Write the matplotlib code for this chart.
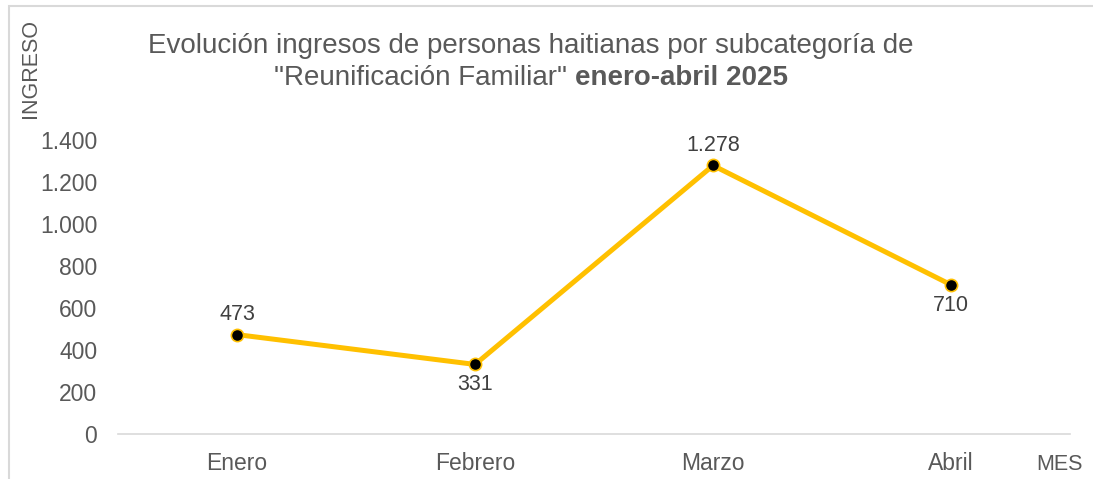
import matplotlib
matplotlib.use("Agg")
import matplotlib.pyplot as plt
import matplotlib.ticker as mticker
from matplotlib.patches import Rectangle

plt.rcParams["font.family"] = ["Liberation Sans", "DejaVu Sans"]

MONTHS = ["Enero", "Febrero", "Marzo", "Abril"]
INGRESOS = [473, 331, 1278, 710]
LABEL_POS = ["above", "below", "above", "below"]
Y_TICKS = [0, 200, 400, 600, 800, 1000, 1200, 1400]

LINE_COLOR = "#FFC000"
TEXT_COLOR = "#595959"
AXIS_COLOR = "#D9D9D9"


def _miles(v, _pos=None):
    return f"{int(v):,}".replace(",", ".")


fig = plt.figure(figsize=(10.93, 4.79), dpi=100)
ax = fig.add_axes([0.108, 0.094, 0.871, 0.614])

x = range(len(MONTHS))
ax.plot(x, INGRESOS, color=LINE_COLOR, linewidth=3.6, zorder=2,
        marker="o", markersize=8.8, markerfacecolor="black",
        markeredgecolor=LINE_COLOR, markeredgewidth=1.2)

for i, (v, pos) in enumerate(zip(INGRESOS, LABEL_POS)):
    dy = 7 if pos == "above" else -7
    ax.annotate(_miles(v), (i, v), xytext=(0, dy), textcoords="offset points",
                ha="center", va="bottom" if pos == "above" else "top",
                fontsize=15.5, color="#404040")

ax.set_xlim(-0.5, len(MONTHS) - 0.5)
ax.set_ylim(0, 1400)
ax.set_xticks(list(x))
ax.set_xticklabels(MONTHS)
ax.set_yticks(Y_TICKS)
ax.yaxis.set_major_formatter(mticker.FuncFormatter(_miles))
ax.tick_params(axis="both", length=0, labelsize=16.5, colors=TEXT_COLOR)
ax.tick_params(axis="x", pad=13)
ax.tick_params(axis="y", pad=15)

for side in ("top", "right", "left"):
    ax.spines[side].set_visible(False)
ax.spines["bottom"].set_color(AXIS_COLOR)
ax.spines["bottom"].set_linewidth(1.2)

# axis titles
fig.text(30 / 1093, 1 - 118 / 479, "INGRESO", rotation=90, ha="center", va="bottom",
         fontsize=15.5, color=TEXT_COLOR)
fig.text(1060 / 1093, 1 - 465 / 479, "MES", ha="center", va="center",
         fontsize=15.5, color=TEXT_COLOR)

# title, second line partly bold
cx = 531 / 1093
fig.text(cx, 1 - 53 / 479, "Evolución ingresos de personas haitianas por subcategoría de",
         ha="center", va="baseline", fontsize=20, color=TEXT_COLOR)
t1 = fig.text(cx, 1 - 85 / 479, '"Reunificación Familiar" ', ha="left", va="baseline",
              fontsize=20, color=TEXT_COLOR)
t2 = fig.text(cx, 1 - 85 / 479, "enero-abril 2025", ha="left", va="baseline",
              fontsize=20, color=TEXT_COLOR, weight="bold")
fig.canvas.draw()
r = fig.canvas.get_renderer()
w1 = t1.get_window_extent(r).width / fig.bbox.width
w2 = t2.get_window_extent(r).width / fig.bbox.width
x0 = cx - (w1 + w2) / 2
t1.set_x(x0)
t2.set_x(x0 + w1)

# light frame around the chart area
fig.patches.append(Rectangle((9 / 1093, -0.05), 1.2, 1 - 6 / 479 + 0.05,
                             transform=fig.transFigure, fill=False,
                             edgecolor=AXIS_COLOR, linewidth=1.5))

fig.savefig("out.png", dpi=100)
